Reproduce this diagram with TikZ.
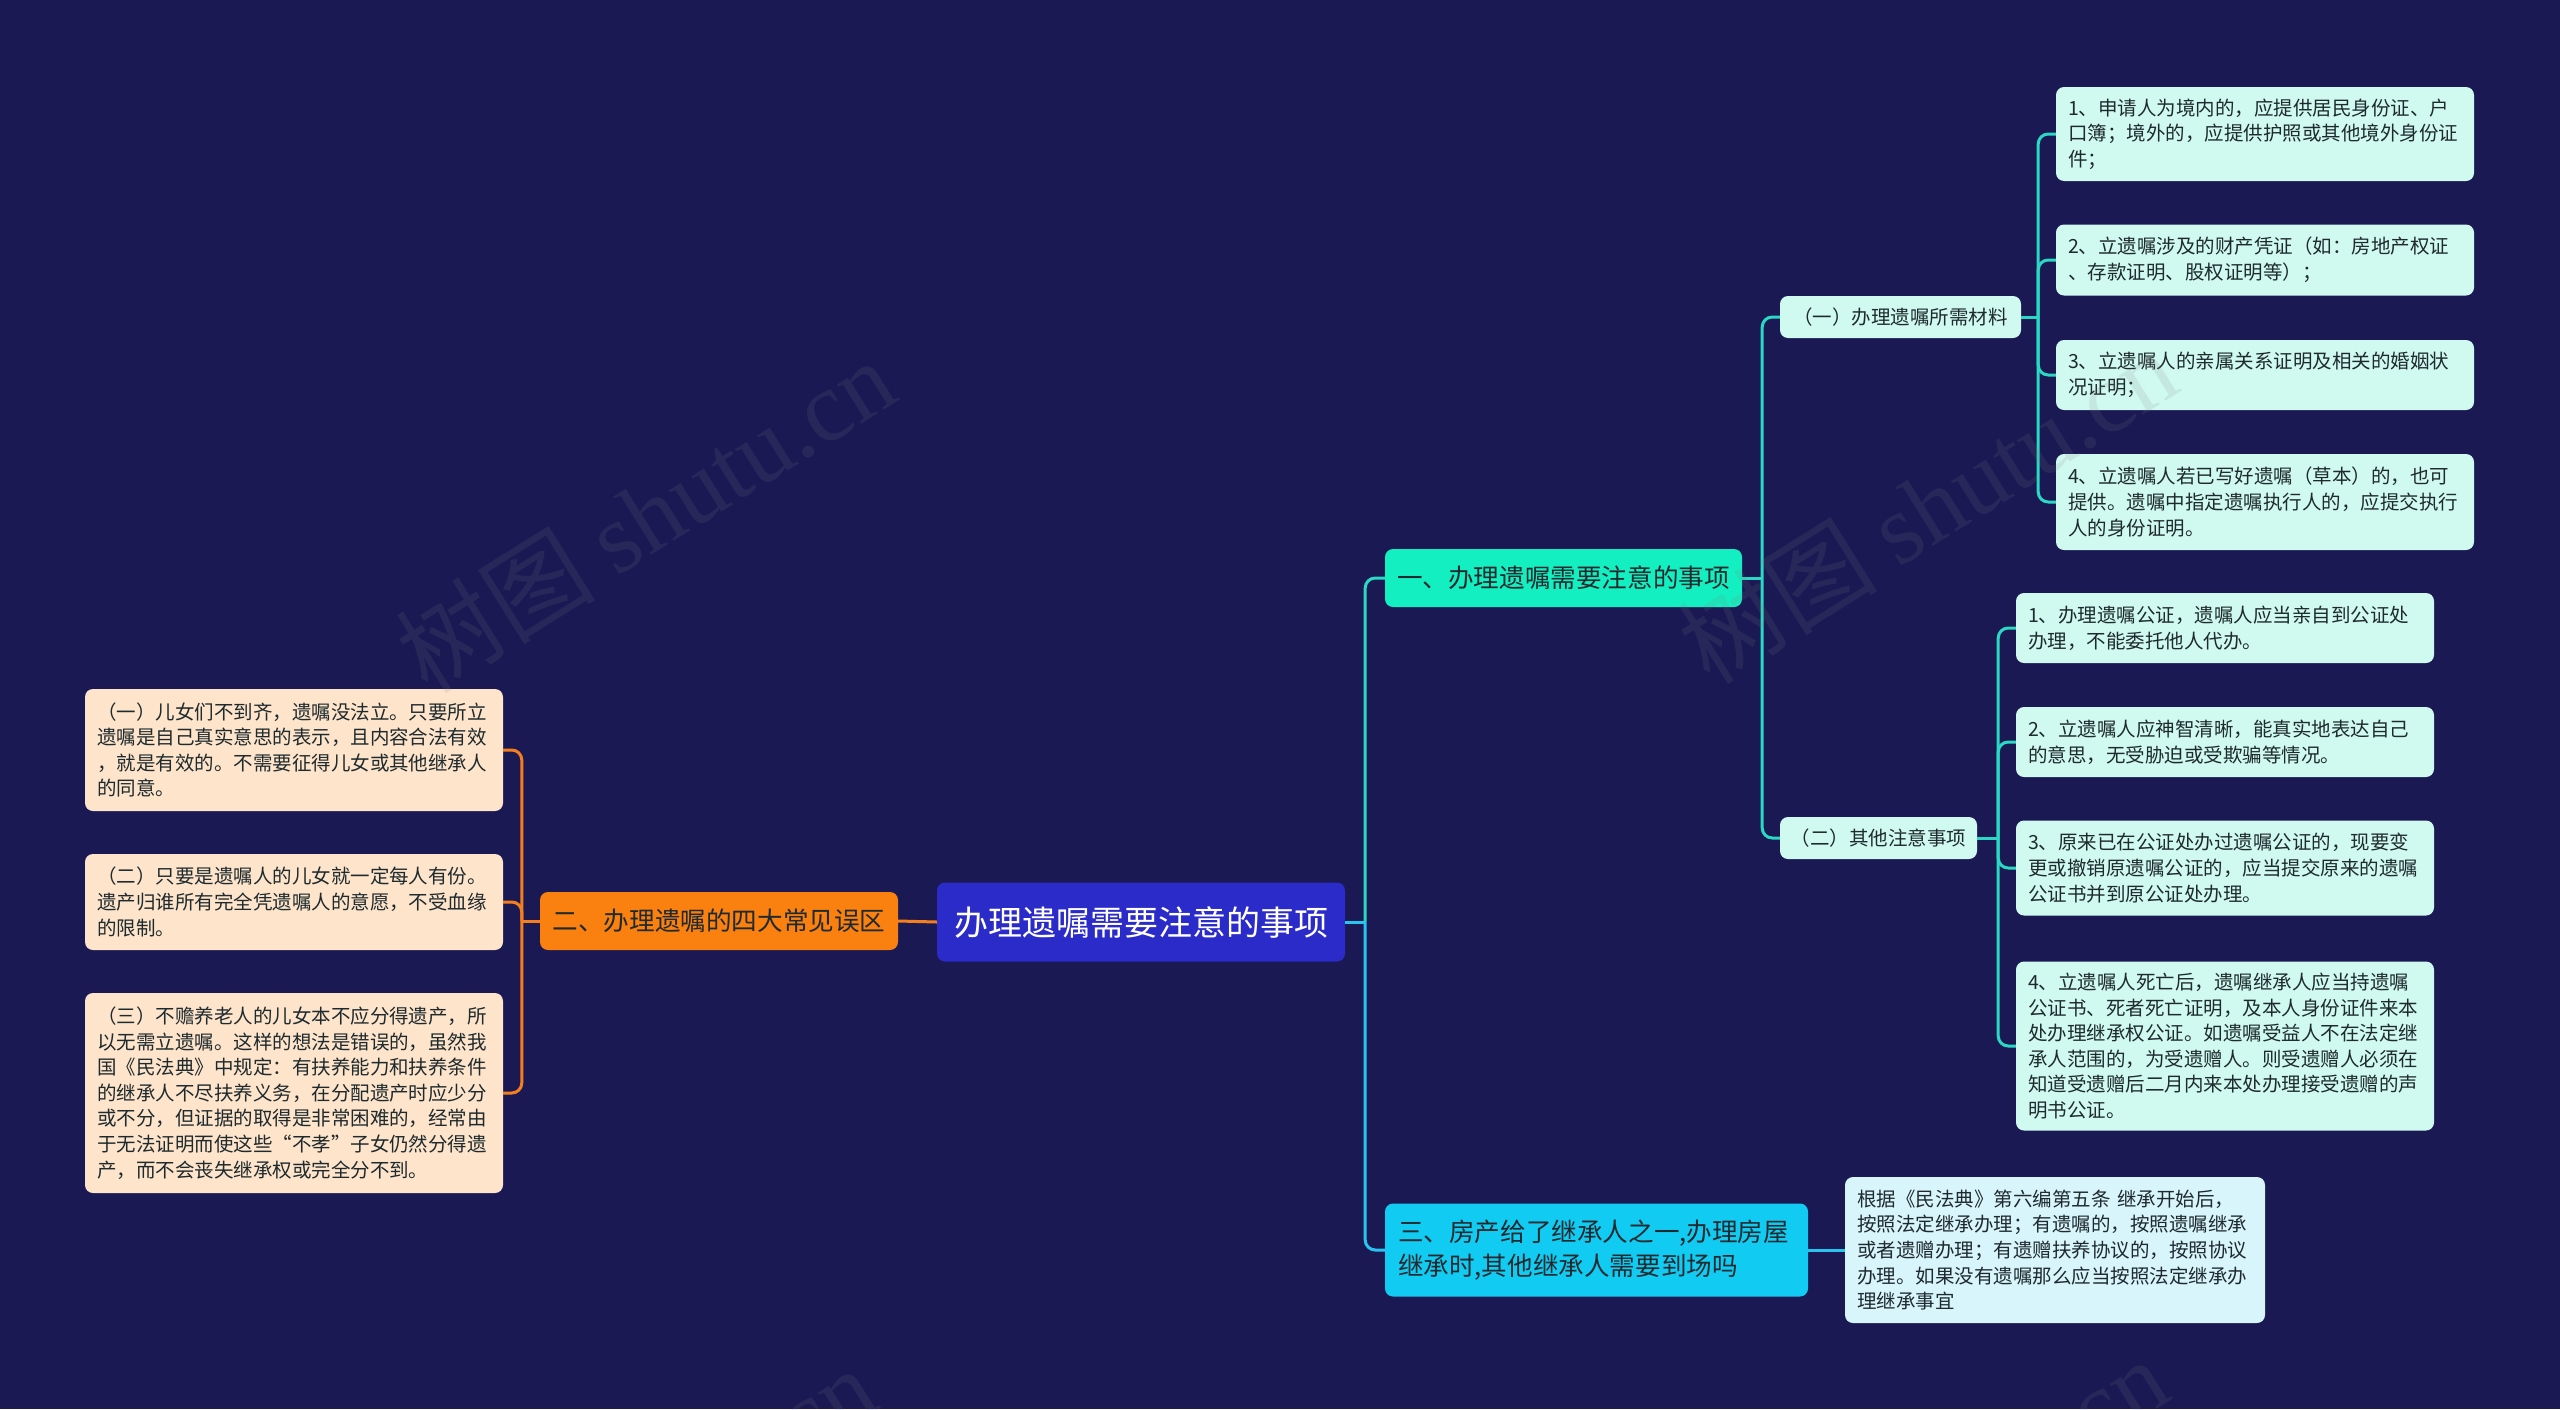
\documentclass[tikz,border=0pt]{standalone}
\usepackage{fontspec}
\setmainfont{Noto Sans CJK SC}
\newfontfamily\wmlatin{Liberation Serif}
\usepackage{tikz}
\usetikzlibrary{positioning}
\usetikzlibrary{calc}

\definecolor{bgnavy}{HTML}{1A1953}
\definecolor{rootblue}{HTML}{2B2BC9}
\definecolor{orangebr}{HTML}{FA8010}
\definecolor{greenbr}{HTML}{14EFC2}
\definecolor{cyanbr}{HTML}{12CBF2}
\definecolor{mintleaf}{HTML}{D0FAF0}
\definecolor{skyleaf}{HTML}{D8F5FC}
\definecolor{peachleaf}{HTML}{FDE4CA}
\definecolor{inkdark}{HTML}{1E2A2E}
\definecolor{orangeline}{HTML}{F57F1F}
\definecolor{tealline}{HTML}{2BD8C4}
\definecolor{cyanline}{HTML}{29C3F0}

\begin{document}
\begin{tikzpicture}[x=1pt, y=-1pt,
    every node/.style={rounded corners=8pt, inner xsep=12pt, inner ysep=0pt, text=inkdark},
    leaf/.style={fill=mintleaf, text width=394pt, align=left, font=\fontsize{19.5}{25.6}\selectfont},
    peach/.style={leaf, fill=peachleaf},
    sky/.style={leaf, fill=skyleaf, text width=396pt},
    sub/.style={fill=mintleaf, inner xsep=10pt, minimum height=42pt, font=\fontsize{19.5}{25.6}\selectfont},
    branch/.style={minimum height=58pt, font=\fontsize{25.6}{34}\selectfont},
    link/.style={line width=3pt, rounded corners=10pt},
    wmark/.style={text=gray, text opacity=0.14, rotate=32, font=\fontsize{100}{100}\selectfont}]

        \fill[bgnavy] (0, 0) rectangle (2560, 1409);
        \useasboundingbox (0, 0) rectangle (2560, 1409);

        \def\gap{20} % Distance from a parent box to its vertical bar

        \node[fill=rootblue, text=white, minimum width=408pt, minimum height=79pt,
              font=\fontsize{34}{40}\selectfont] (root) at (1141, 922) {办理遗嘱需要注意的事项};

        \node[branch, fill=greenbr, minimum width=357pt] (b1) at (1563.5, 578) {一、办理遗嘱需要注意的事项};
        \node[branch, fill=orangebr, minimum width=358pt] (b2) at (719, 921) {二、办理遗嘱的四大常见误区};
        \node[branch, fill=cyanbr, inner xsep=13pt, text width=397pt, align=left, minimum height=93pt] (b3) at (1596.5, 1250)
              {三、房产给了继承人之一,办理房屋\\继承时,其他继承人需要到场吗};

        \node[sub, minimum width=241pt] (s1) at (1900.5, 317) {（一）办理遗嘱所需材料};
        \node[sub, minimum width=197pt] (s2) at (1878.5, 838) {（二）其他注意事项};

        \node[leaf, minimum height=94pt] (m1) at (2265, 134)
              {1、申请人为境内的，应提供居民身份证、户\\口簿；境外的，应提供护照或其他境外身份证\\件；};
        \node[leaf, minimum height=71pt] (m2) at (2265, 260)
              {2、立遗嘱涉及的财产凭证（如：房地产权证\\、存款证明、股权证明等）；};
        \node[leaf, minimum height=70pt] (m3) at (2265, 375)
              {3、立遗嘱人的亲属关系证明及相关的婚姻状\\况证明；};
        \node[leaf, minimum height=96pt] (m4) at (2265, 502)
              {4、立遗嘱人若已写好遗嘱（草本）的，也可\\提供。遗嘱中指定遗嘱执行人的，应提交执行\\人的身份证明。};

        \node[leaf, minimum height=70pt] (n1) at (2225, 628)
              {1、办理遗嘱公证，遗嘱人应当亲自到公证处\\办理，不能委托他人代办。};
        \node[leaf, minimum height=70pt] (n2) at (2225, 742)
              {2、立遗嘱人应神智清晰，能真实地表达自己\\的意思，无受胁迫或受欺骗等情况。};
        \node[leaf, minimum height=95pt] (n3) at (2225, 868)
              {3、原来已在公证处办过遗嘱公证的，现要变\\更或撤销原遗嘱公证的，应当提交原来的遗嘱\\公证书并到原公证处办理。};
        \node[leaf, minimum height=169pt] (n4) at (2225, 1046)
              {4、立遗嘱人死亡后，遗嘱继承人应当持遗嘱\\公证书、死者死亡证明，及本人身份证件来本\\处办理继承权公证。如遗嘱受益人不在法定继\\承人范围的，为受遗赠人。则受遗赠人必须在\\知道受遗赠后二月内来本处办理接受遗赠的声\\明书公证。};

        \node[sky, minimum height=146pt] (c1) at (2055, 1250)
              {根据《民法典》第六编第五条 继承开始后，\\按照法定继承办理；有遗嘱的，按照遗嘱继承\\或者遗赠办理；有遗赠扶养协议的，按照协议\\办理。如果没有遗嘱那么应当按照法定继承办\\理继承事宜};

        \node[peach, minimum height=122pt] (l1) at (294, 750)
              {（一）儿女们不到齐，遗嘱没法立。只要所立\\遗嘱是自己真实意思的表示，且内容合法有效\\，就是有效的。不需要征得儿女或其他继承人\\的同意。};
        \node[peach, minimum height=96pt] (l2) at (294, 902)
              {（二）只要是遗嘱人的儿女就一定每人有份。\\遗产归谁所有完全凭遗嘱人的意愿，不受血缘\\的限制。};
        \node[peach, minimum height=200pt] (l3) at (294, 1093)
              {（三）不赡养老人的儿女本不应分得遗产，所\\以无需立遗嘱。这样的想法是错误的，虽然我\\国《民法典》中规定：有扶养能力和扶养条件\\的继承人不尽扶养义务，在分配遗产时应少分\\或不分，但证据的取得是非常困难的，经常由\\于无法证明而使这些“不孝”子女仍然分得遗\\产，而不会丧失继承权或完全分不到。};

        \coordinate (jR) at ($(root.east) + (\gap, 0)$);
        \coordinate (jL) at ($(b2.west) + (-18, 0)$);
        \coordinate (jB) at ($(b1.east) + (\gap, 0)$);
        \coordinate (jA) at ($(s1.east) + (17, 0)$);
        \coordinate (jN) at ($(s2.east) + (21, 0)$);

        \draw[link, cyanline] (root.east) -- (jR);
        \draw[link, tealline] (jR) |- (b1.west);
        \draw[link, cyanline] (jR) |- (b3.west);
        \draw[link, orangeline] (root.west) -- (b2.east);

        \draw[link, orangeline] (b2.west) -- (jL);
        \foreach \j in {1,...,3} {
          \draw[link, orangeline] (jL) |- (l\j.east);
        }

        \draw[link, tealline] (b1.east) -- (jB);
        \draw[link, tealline] (jB) |- (s1.west);
        \draw[link, tealline] (jB) |- (s2.west);

        \draw[link, tealline] (s1.east) -- (jA);
        \draw[link, tealline] (s2.east) -- (jN);
        \foreach \j in {1,...,4} {
          \draw[link, tealline] (jA) |- (m\j.west);
          \draw[link, tealline] (jN) |- (n\j.west);
        }

        \draw[link, cyanline] (b3.east) -- (c1.west);

        % faint watermark
        \begin{scope}
          \clip (0, 0) rectangle (2560, 1409);
          \foreach \wx/\wy [count=\i] in {645/515, 1927/506, 626/1523, 1918/1514} {
            \node[wmark] (wm\i) at (\wx, \wy) {树图 {\wmlatin shutu.cn}};
          }
        \end{scope}

\end{tikzpicture}
\end{document}
